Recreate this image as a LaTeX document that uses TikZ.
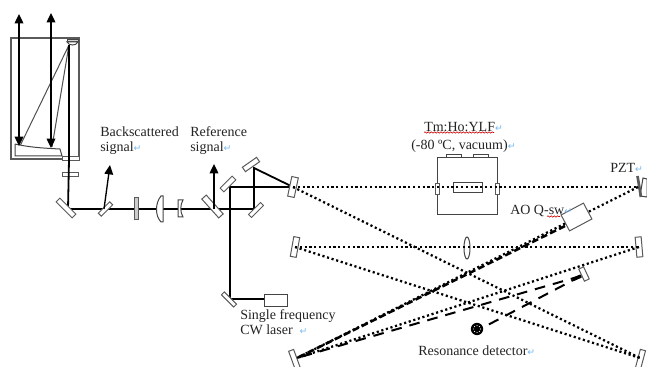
\documentclass[tikz,border=0pt]{standalone}
\usepackage{fontspec}
\setmainfont{Liberation Serif}
\newfontfamily\symf{DejaVu Sans}
\usetikzlibrary{decorations.pathmorphing,arrows.meta}
\definecolor{ret}{RGB}{120,185,240}
\definecolor{ink}{RGB}{35,35,35}
\newcommand{\retm}{{\symf\color{ret}\fontsize{7}{7}\selectfont ↵}}
\tikzset{
  opt/.style={draw=ink!75,line width=0.75pt,fill=white,rectangle,inner sep=0pt,minimum width=#1},
  opt/.default=4pt,
  lbl/.style={inner sep=0pt,anchor=west,font=\fontsize{10.5}{11.2}\selectfont,text=ink},
  beam/.style={draw=black,line width=1.35pt},
  thinb/.style={draw=ink!80,line width=0.75pt},
  up/.style={beam,line width=1pt,-{Triangle[length=7pt,width=6.5pt]}},
  dots/.style={draw=black,line width=1.7pt,dash pattern=on 1.6pt off 2pt},
  dsh/.style={draw=black,line width=1.5pt,dash pattern=on 8pt off 6pt},
  dshb/.style={draw=black,line width=1.9pt,dash pattern=on 5pt off 2.5pt},
  wavy/.style={draw=red!80!black,line width=0.45pt,decorate,decoration={snake,amplitude=0.5pt,segment length=2.4pt}},
  box/.style={draw=ink!85,line width=0.75pt}
}
\begin{document}
\begin{tikzpicture}[x=0.75pt,y=-0.75pt]
\useasboundingbox (0,0) rectangle (647,367);
% named points
\coordinate (P1) at (69,45); \coordinate (T1) at (20,146); \coordinate (T2) at (52,147);
\coordinate (U1s) at (19,146); \coordinate (U1e) at (19,14);
\coordinate (U2s) at (51,148); \coordinate (U2e) at (51,13);
\coordinate (B1) at (68,209); \coordinate (BS) at (104,209);
\coordinate (BSu) at (110,165); \coordinate (RS) at (214,209); \coordinate (RSu) at (214,164);
\coordinate (Mm) at (254,209); \coordinate (Mt) at (254,168);
\coordinate (Bl) at (230,187); \coordinate (Bb) at (230,299);
\coordinate (M1) at (293,187); \coordinate (M2) at (638,187); \coordinate (M3) at (295,247);
\coordinate (M4) at (639,247); \coordinate (M5) at (297,358); \coordinate (M6) at (640,358);
\coordinate (SM) at (581,276); \coordinate (Lz) at (264,299);
% telescope
\draw[box,line width=1pt,draw=ink!75] (11,38) rectangle (79,159);
\draw[thinb] (P1) -- (T1) (P1) -- (T2);
\draw[box,fill=white] (15,144) -- (15,156) -- (62,156) -- (60,149) .. controls (40,148) and (28,147) .. (15,144);
\draw[box,fill=gray!35] (67,40) rectangle (78,42);
\draw[box,fill=white] (67,42) .. controls (69,46) and (76,46) .. (78,42) -- cycle;
\draw[up,{Triangle[length=7pt,width=6.5pt]}-{Triangle[length=7pt,width=6.5pt]}] (U1s) -- (U1e);
\draw[up,{Triangle[length=7pt,width=6.5pt]}-{Triangle[length=7pt,width=6.5pt]}] (U2s) -- (U2e);
\node[opt=3pt,minimum height=12.75pt,rotate=90] (w1) at (70.5,159) {};
\node[opt=2.5pt,minimum height=12pt,rotate=90] (w2) at (70,174.5) {};
% beams
\draw[beam,line width=1pt] (P1) -- (69,160);
\draw[beam] (69,160) -- (B1) -- (Mm);
\draw[beam] (Mm) -- (Mt) -- (M1);
\draw[beam,line width=1.1pt] (Bb) -- (Bl) -- (M1);
\draw[beam,line width=1.1pt] (Bb) -- (Lz);
% optics
\node[opt,minimum height=17pt,rotate=45] (m1) at (66,208) {};
\node[opt=3.2pt,minimum height=12pt,rotate=-45] (bs1) at (105.5,209) {};
\node[opt=2.5pt,minimum height=16pt,fill=gray!40] (pl) at (136.5,208.5) {};
\draw[box,fill=white] (161,196) .. controls (155,203) and (155,216) .. (161,222) -- (163,222) -- (163,196) -- cycle;
\draw[box,fill=white] (178,200) -- (183,200) .. controls (180,205) and (180,212) .. (183,217) -- (178,217) -- cycle;
\node[opt=4.5pt,minimum height=19pt,rotate=42] (bs2) at (212.5,206.5) {};
\node[opt=4pt,minimum height=12.7pt,rotate=-45] (m2) at (228,184) {};
\node[opt=3.2pt,minimum height=12.7pt,rotate=-45] (m3) at (256,210) {};
\node[opt=4pt,minimum height=13pt,rotate=-55] (m4) at (251,164.5) {};
\node[opt=3pt,minimum height=13pt,rotate=45] (m5) at (229,299.5) {};
\draw[up] (BS) -- (BSu);
\draw[up] (RS) -- (RSu);
\node[opt=5pt,minimum height=15pt,rotate=-12] (mi) at (M1) {};
% chamber
\draw[box] (437,158) rectangle (497,215);
\draw[box,fill=white] (446,155) rectangle (461,158) (473,155) rectangle (488,158);
\node[opt=3pt,minimum height=8.5pt] (wa) at (437,189) {};
\node[opt=3pt,minimum height=8.5pt] (wb) at (497,189) {};
\draw[box,fill=white] (453,183) rectangle (482,193);
% cavity mirrors
\node[opt=4.5pt,minimum height=15pt,rotate=-10] (mc) at (295,247) {};
\node[opt=4.5pt,minimum height=15pt,rotate=5] (md) at (639,247) {};
\node[opt=4pt,minimum height=17pt,rotate=20] (me) at (295,361) {};
\node[opt=4pt,minimum height=17pt,rotate=-15] (mf) at (640,361) {};
\node[opt=4pt,minimum height=10pt,rotate=25] (ms) at (584,274) {};
\draw[box,fill=white] (643,178) -- (647,179) -- (647,197) -- (640,196) -- cycle;
\draw[draw=ink!75,line width=2pt] (637.5,176) -- (641,197);
\draw[box,fill=white] (467,248) ellipse (3 and 11);
% cavity rays
\draw[dots] (M1) -- (M2);
\draw[dots] (M1) -- (M6);
\draw[dots] (M3) -- (M4);
\draw[dots] (M3) -- (M6);
\draw[dots] (M4) -- (M5);
\draw[dots] (M2) -- (M5);
\draw[dshb] (565,226) -- (M5);
\draw[dsh] (SM) -- (M5);
\draw[dsh] (SM) -- (484,327);
\draw[draw=black,line width=2.6pt] (SM) -- (573,279.5);
% AO
\node[opt=13.5pt,minimum height=19pt,rotate=-62] (ao) at (576.5,217) {};
% detector
\fill[black] (477,329) circle (6.2);
\foreach \a in {0,45,...,315}{\fill[white] (477,329)++(\a:3.4) circle (0.6);}
% labels
\node[lbl,align=left] (t1) at (100,141) {Backscattered\\signal\retm};
\node[lbl,align=left] (t2) at (190,141) {Reference\\signal\retm};
\node[lbl] (t3) at (424,127) {Tm:Ho:YLF\retm};
\node[lbl] (t4) at (411,146) {(-80 ºC, vacuum)\retm};
\node[lbl] (t5) at (610,168) {PZT\retm};
\node[lbl] (t6) at (510,211) {AO Q-sw\retm};
\node[lbl,align=left] (t7) at (240,322) {Single frequency\\CW laser\ \ \retm};
\node[lbl] (t8) at (418,351) {Resonance detector\retm};
\draw[wavy] (424,132.5) -- (494,132.5);
\draw[wavy] (547,216.5) -- (560,216.5);
% laser
\node[box,fill=white,minimum width=17.5pt,minimum height=8.5pt,inner sep=0pt] (las) at (276,300.5) {};
\end{tikzpicture}
\end{document}
